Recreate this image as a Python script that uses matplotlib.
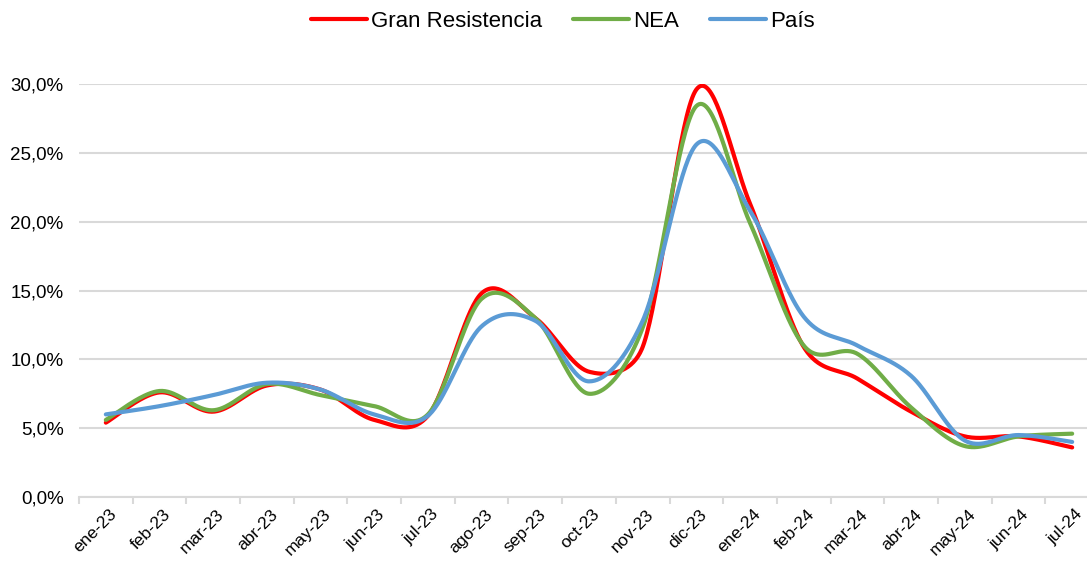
import numpy as np
import matplotlib
matplotlib.use("Agg")
import matplotlib.pyplot as plt
import matplotlib.transforms as mtransforms
from matplotlib.ticker import FuncFormatter, FixedLocator

months = ['ene-23', 'feb-23', 'mar-23', 'abr-23', 'may-23', 'jun-23', 'jul-23',
          'ago-23', 'sep-23', 'oct-23', 'nov-23', 'dic-23', 'ene-24', 'feb-24',
          'mar-24', 'abr-24', 'may-24', 'jun-24', 'jul-24']

gran_resistencia = [5.4, 7.6, 6.2, 8.1, 7.8, 5.6, 5.9, 14.8, 13.0, 9.1, 10.9,
                    29.6, 21.3, 10.9, 8.6, 6.2, 4.4, 4.4, 3.6]
nea = [5.6, 7.7, 6.3, 8.2, 7.4, 6.6, 6.0, 14.4, 13.0, 7.5, 12.3,
       28.4, 19.9, 11.0, 10.4, 6.5, 3.7, 4.4, 4.6]
pais = [6.0, 6.6, 7.4, 8.3, 7.8, 6.0, 5.9, 12.4, 12.8, 8.4, 12.8,
        25.6, 20.8, 13.1, 11.0, 8.8, 4.1, 4.5, 4.0]

series = [("Gran Resistencia", gran_resistencia, "#FF0000"),
          ("NEA", nea, "#70AD47"),
          ("País", pais, "#5B9BD5")]

PX_X = 53.7    # pixels per category (for Excel-like smoothing in screen space)
PX_Y = 13.77   # pixels per 1 %


def smooth(xs, ys, n=40):
    """Excel-like smoothed line: cubic Bezier, Catmull-Rom control points
    with control distance limited to half the segment length."""
    P = np.column_stack([np.asarray(xs) * PX_X, np.asarray(ys) * PX_Y]).astype(float)
    out = [P[0]]
    m = len(P)
    t = np.linspace(0, 1, n)[1:, None]
    for i in range(m - 1):
        p0 = P[i - 1] if i > 0 else P[i]
        p1 = P[i]
        p2 = P[i + 1]
        p3 = P[i + 2] if i + 2 < m else P[i + 1]
        d12 = np.linalg.norm(p2 - p1)
        t1 = (p2 - p0) / 6.0
        t2 = (p3 - p1) / 6.0
        n1 = np.linalg.norm(t1)
        n2 = np.linalg.norm(t2)
        if n1 > d12 / 2 and n1 > 0:
            t1 = t1 * (d12 / 2) / n1
        if n2 > d12 / 2 and n2 > 0:
            t2 = t2 * (d12 / 2) / n2
        c1 = p1 + t1
        c2 = p2 - t2
        seg = ((1 - t) ** 3) * p1 + 3 * ((1 - t) ** 2) * t * c1 + 3 * (1 - t) * t ** 2 * c2 + t ** 3 * p2
        out.extend(seg)
    out = np.array(out)
    return out[:, 0] / PX_X, out[:, 1] / PX_Y


plt.rcParams['font.family'] = ['Liberation Sans', 'DejaVu Sans']

fig = plt.figure(figsize=(10.87, 5.64), dpi=100)
ax = fig.add_axes([79 / 1087, 1 - 497 / 564, (1099 - 79) / 1087, (497 - 84) / 564])

x = np.arange(len(months))
for name, vals, col in series:
    sx, sy = smooth(x, vals)
    ax.plot(sx, sy / 100.0, color=col, lw=3.0, solid_capstyle='round', label=name, zorder=3)

ax.set_xlim(-0.5, len(months) - 0.5)
ax.set_ylim(0, 0.30)
ax.yaxis.set_major_locator(FixedLocator(np.arange(0, 0.301, 0.05)))
ax.yaxis.set_major_formatter(FuncFormatter(lambda v, p: f"{v*100:.1f}%".replace('.', ',')))
ax.grid(axis='y', color='#d9d9d9', lw=1.5, zorder=0)
ax.set_axisbelow(True)

for s in ['top', 'right', 'left']:
    ax.spines[s].set_visible(False)
ax.spines['bottom'].set_color('#d9d9d9')
ax.spines['bottom'].set_linewidth(1.5)

ax.set_xticks(x)
ax.set_xticklabels(months, rotation=45, ha='right', rotation_mode='anchor', fontsize=12.5)
ax.tick_params(axis='x', length=0, pad=7)
offset = mtransforms.ScaledTranslation(0.03, 0, fig.dpi_scale_trans)
for lab in ax.get_xticklabels():
    lab.set_transform(lab.get_transform() + offset)
ax.set_xticks(np.arange(-0.5, len(months), 1), minor=True)
ax.tick_params(axis='x', which='minor', length=5, color='#d9d9d9', width=1.5)
ax.tick_params(axis='y', length=0, labelsize=13.5, pad=11)

leg = fig.legend(loc='upper center', bbox_to_anchor=(0.518, 1.016), ncol=3, frameon=False,
                 fontsize=16, handlelength=2.5, columnspacing=1.4, handletextpad=0.2)

fig.savefig("out.png", dpi=100)
